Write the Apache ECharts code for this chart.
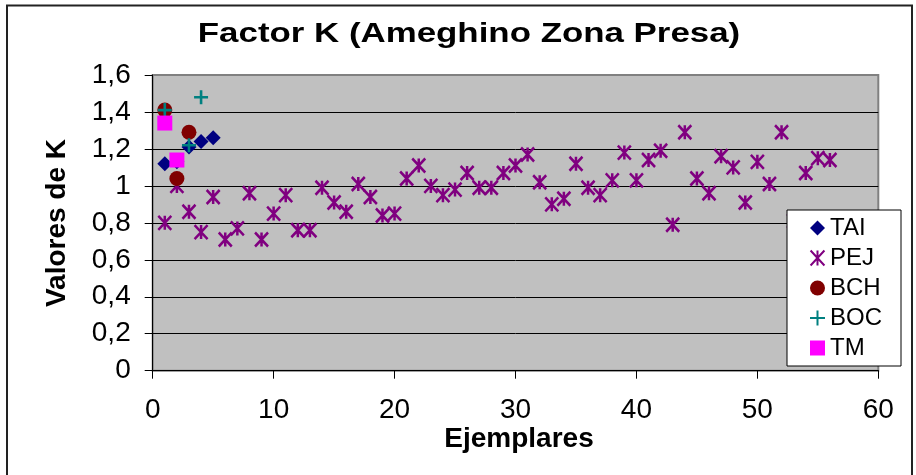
<!DOCTYPE html>
<html><head><meta charset="utf-8">
<script src="https://cdn.jsdelivr.net/npm/echarts@6/dist/echarts.min.js"></script>
<style>html,body{margin:0;padding:0;background:#fff}#c{width:916px;height:475px}</style>
</head><body><div id="c"></div>
<script>
const titleText = 'Factor K (Ameghino Zona Presa)';
const xAxisTitle = 'Ejemplares';
const yAxisTitle = 'Valores de K';
const seriesNames = ['TAI', 'PEJ', 'BCH', 'BOC', 'TM'];

const taiX = [1, 2, 3, 4, 5];
const taiY = [1.12, 1.13, 1.21, 1.24, 1.26];

const pejX = [1, 2, 3, 4, 5, 6, 7, 8, 9, 10, 11, 12, 13, 14, 15, 16, 17, 18, 19, 20,
  21, 22, 23, 24, 25, 26, 27, 28, 29, 30, 31, 32, 33, 34, 35, 36, 37, 38, 39, 40,
  41, 42, 43, 44, 45, 46, 47, 48, 49, 50, 51, 52, 53, 54, 55, 56];
const pejY = [0.80, 1.00, 0.86, 0.75, 0.94, 0.71, 0.77, 0.96, 0.71, 0.85,
  0.95, 0.76, 0.76, 0.99, 0.91, 0.86, 1.01, 0.94, 0.84, 0.85,
  1.04, 1.11, 1.00, 0.95, 0.98, 1.07, 0.99, 0.99, 1.07, 1.11,
  1.17, 1.02, 0.90, 0.93, 1.12, 0.99, 0.95, 1.03, 1.18, 1.03,
  1.14, 1.19, 0.79, 1.29, 1.04, 0.96, 1.16, 1.10, 0.91, 1.13,
  1.01, 1.29, 0.81, 1.07, 1.15, 1.14];

const bchX = [1, 2, 3];
const bchY = [1.41, 1.04, 1.29];

const bocX = [1, 3, 4];
const bocY = [1.41, 1.22, 1.48];

const tmX = [1, 2];
const tmY = [1.34, 1.14];

const xTicks = [0, 10, 20, 30, 40, 50, 60];
const yTickLabels = ['0', '0,2', '0,4', '0,6', '0,8', '1', '1,2', '1,4', '1,6'];

const pairs = (xs, ys) => xs.map((x, i) => [x, ys[i]]);
const FONT = '"Liberation Sans", Arial, sans-serif';
const starPath = 'path://M0,0L12,13M12,0L0,13M6,0L6,13';
const plusPath = 'path://M6,0L6,12M0,6L12,6';

const chart = echarts.init(document.getElementById('c'), null, {renderer: 'canvas'});
chart.setOption({
  animation: false,
  backgroundColor: '#fff',
  textStyle: {fontFamily: FONT},
  grid: {
    left: 152.7, right: 37.7, top: 75, bottom: 104.3,
    show: true, backgroundColor: '#C0C0C0', borderColor: '#808080', borderWidth: 2
  },
  xAxis: {
    type: 'value', min: xTicks[0], max: xTicks[xTicks.length - 1], interval: 10,
    axisLine: {show: true, onZero: false, lineStyle: {color: '#000', width: 1}},
    axisTick: {show: true, inside: false, length: 8, lineStyle: {color: '#000'}},
    axisLabel: {color: '#000', fontSize: 28, fontFamily: FONT, margin: 26},
    splitLine: {show: false}
  },
  yAxis: {
    type: 'value', min: 0, max: 1.6, interval: 0.2,
    axisLine: {show: true, onZero: false, lineStyle: {color: '#000', width: 1}},
    axisTick: {show: true, inside: false, length: 8, lineStyle: {color: '#000'}},
    axisLabel: {
      color: '#000', fontSize: 28, fontFamily: FONT, margin: 22,
      formatter: (v) => yTickLabels[Math.round(v / 0.2)]
    },
    splitLine: {show: true, showMaxLine: false, lineStyle: {color: '#000', width: 1}}
  },
  legend: {
    orient: 'vertical', left: 787, top: 210,
    padding: [6, 19, 6, 22], itemGap: 6, itemWidth: 15, itemHeight: 15,
    backgroundColor: '#fff', borderColor: '#000', borderWidth: 1, borderRadius: 0,
    textStyle: {fontSize: 24, color: '#000', fontFamily: FONT},
    data: seriesNames
  },
  graphic: [
    {type: 'rect', shape: {x: 7, y: 5.5, width: 905, height: 480}, style: {fill: 'none', stroke: '#222', lineWidth: 2}, silent: true},
    {type: 'text', x: 469, y: 34, scaleX: 1.245, style: {text: titleText, font: 'bold 28px ' + FONT, fill: '#000', align: 'center', verticalAlign: 'middle'}},
    {type: 'text', x: 57, y: 223, rotation: Math.PI / 2, style: {text: yAxisTitle, font: 'bold 28px ' + FONT, fill: '#000', align: 'center', verticalAlign: 'middle'}},
    {type: 'text', x: 519, y: 439, style: {text: xAxisTitle, font: 'bold 28px ' + FONT, fill: '#000', align: 'center', verticalAlign: 'middle'}}
  ],
  series: [
    {name: 'TAI', type: 'scatter', data: pairs(taiX, taiY), symbol: 'diamond', symbolSize: 15,
      itemStyle: {color: '#000080', opacity: 1}},
    {name: 'PEJ', type: 'scatter', data: pairs(pejX, pejY), symbol: starPath, symbolSize: [13, 14],
      itemStyle: {color: 'transparent', borderColor: '#800080', borderWidth: 2.6, opacity: 1}},
    {name: 'BCH', type: 'scatter', data: pairs(bchX, bchY), symbol: 'circle', symbolSize: 15,
      itemStyle: {color: '#800000', opacity: 1}},
    {name: 'BOC', type: 'scatter', data: pairs(bocX, bocY), symbol: plusPath, symbolSize: 14,
      itemStyle: {color: 'transparent', borderColor: '#008080', borderWidth: 2.6, opacity: 1}},
    {name: 'TM', type: 'scatter', data: pairs(tmX, tmY), symbol: 'rect', symbolSize: 15,
      itemStyle: {color: '#FF00FF', opacity: 1}}
  ]
});
</script>
</body></html>
